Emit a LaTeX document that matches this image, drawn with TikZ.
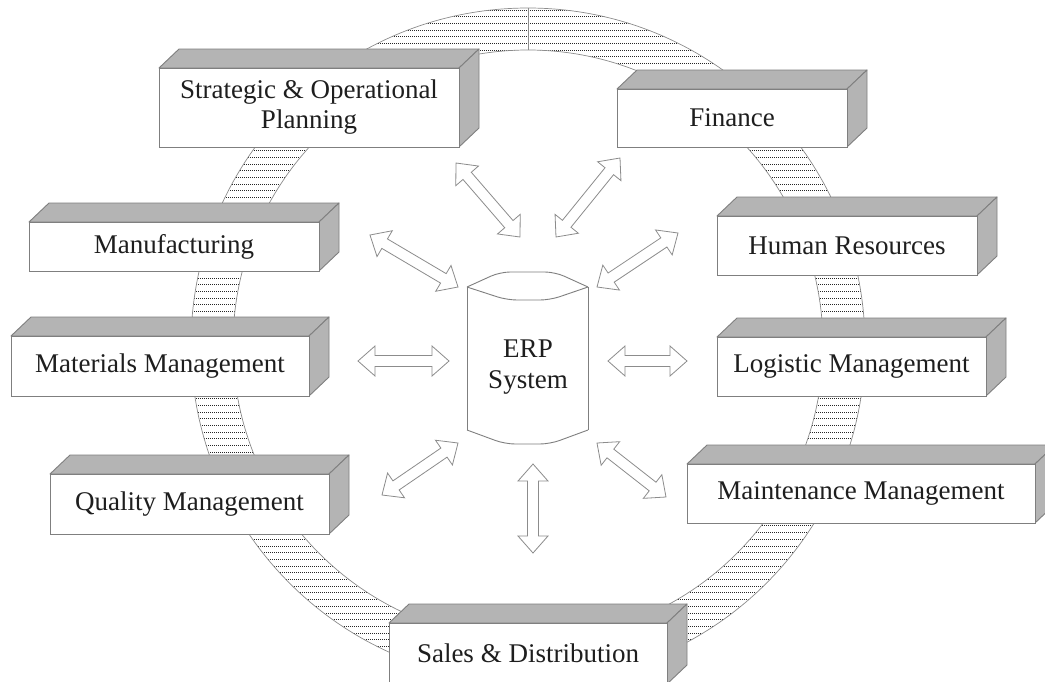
\documentclass[tikz,border=0pt]{standalone}
\usepackage{fontspec}
\setmainfont{Liberation Serif}
\usetikzlibrary{calc}
\definecolor{facegray}{HTML}{B4B4B4}
\definecolor{edgegray}{HTML}{7F7F7F}
\definecolor{arrowgray}{HTML}{8C8C8C}
\definecolor{txt}{HTML}{1E1E1E}
\tikzset{
  frontface/.style={draw=edgegray, fill=white, line width=0.9pt, inner sep=0pt, outer sep=0pt,
    font=\fontsize{27}{30}\selectfont, text=txt, align=center},
  sideface/.style={draw=edgegray, fill=facegray, line width=0.9pt, line join=round},
  ringline/.style={draw=gray!90, line width=0.7pt},
  hatch/.style={black!85, line width=1pt, dash pattern=on 1.2pt off 0.8pt},
  blockarrow/.style={draw=arrowgray, fill=white, line width=0.8pt, line join=miter},
  cylline/.style={draw=edgegray, line width=0.9pt},
  erptext/.style={font=\fontsize{27}{31}\selectfont, text=txt, align=center},
}
\newcommand\threedbox[6]{%
  \path[sideface] (#2,#3) -- (#2+20,#3-19) -- (#4+20,#3-19) -- (#4,#3) -- cycle;
  \path[sideface] (#4,#3) -- (#4+20,#3-19) -- (#4+20,#5-19) -- (#4,#5) -- cycle;
  \node[frontface, minimum width={#4-#2}, minimum height={#5-#3}] (#1) at ({(#2+#4)/2},{(#3+#5)/2}) {#6};
}
\newcommand\dblarrow[2]{%
  \coordinate (ca) at ($(#1)!17pt!(#2)$);
  \coordinate (cb) at ($(#2)!17pt!(#1)$);
  \draw[blockarrow] (#1) -- ($(ca)!15pt!90:(#2)$) -- ($(ca)!5.5pt!90:(#2)$)
    -- ($(cb)!5.5pt!-90:(#1)$) -- ($(cb)!15pt!-90:(#1)$) -- (#2)
    -- ($(cb)!15pt!90:(#1)$) -- ($(cb)!5.5pt!90:(#1)$)
    -- ($(ca)!5.5pt!-90:(#2)$) -- ($(ca)!15pt!-90:(#2)$) -- cycle;
}
\begin{document}
\begin{tikzpicture}[x=1pt,y=-1pt]
\useasboundingbox (0,0) rectangle (1045,681);
\clip (0,0) rectangle (1045,681);
\fill[white] (0,0) rectangle (1045,681);
% ring
\begin{scope}
  \clip (528,345) circle[radius=337pt];
  \foreach \yy in {10,16.7,...,690} \draw[hatch] (180,\yy) -- (880,\yy);
\end{scope}
\fill[white] (528,345) circle[radius=295pt];
\draw[ringline] (528,345) circle[radius=337pt];
\draw[ringline] (528,345) circle[radius=295pt];
\draw[ringline] (528,8) -- (528,50);
% boxes
\threedbox{strat}{159}{68}{459}{147}{Strategic \& Operational\\Planning}
\threedbox{fin}{617}{89}{847}{147}{Finance}
\threedbox{manu}{29}{222}{319}{271}{Manufacturing}
\threedbox{hr}{717}{216}{977}{275}{Human Resources}
\threedbox{mat}{11}{336}{309}{396}{Materials Management}
\threedbox{log}{717}{337}{986}{396}{Logistic Management}
\threedbox{qual}{50}{474}{329}{534}{Quality Management}
\threedbox{maint}{687}{464}{1035}{523}{Maintenance Management}
\threedbox{sales}{389}{623}{667}{684}{Sales \& Distribution}
% ERP cylinder
\path[fill=white] (467,287) -- (500,272) -- (555,272) -- (588,287) -- (588,430) -- (550,444) -- (505,444) -- (467,430) -- cycle;
\draw[cylline, rounded corners=10pt] (467,287) -- (500,272) -- (555,272) -- (588,287);
\draw[cylline, rounded corners=10pt] (467,287) -- (507,300) -- (550,300) -- (588,287);
\draw[cylline] (467,287) -- (467,430);
\draw[cylline] (588,287) -- (588,430);
\draw[cylline, rounded corners=10pt] (467,430) -- (505,444) -- (550,444) -- (588,430);
\node[erptext] (erp) at (528,367) {ERP\\System};
% arrow end points
\coordinate (s1) at (456,163); \coordinate (e1) at (520,237);
\coordinate (s2) at (620,158); \coordinate (e2) at (556,237);
\coordinate (s3) at (370,235); \coordinate (e3) at (458,287);
\coordinate (s4) at (678,233); \coordinate (e4) at (597,287);
\coordinate (s5) at (358,361); \coordinate (e5) at (449,361);
\coordinate (s6) at (687,361); \coordinate (e6) at (608,361);
\coordinate (s7) at (382,495); \coordinate (e7) at (458,443);
\coordinate (s8) at (666,497); \coordinate (e8) at (597,443);
\coordinate (s9) at (533,553); \coordinate (e9) at (533,464);
\dblarrow{s1}{e1}
\dblarrow{s2}{e2}
\dblarrow{s3}{e3}
\dblarrow{s4}{e4}
\dblarrow{s5}{e5}
\dblarrow{s6}{e6}
\dblarrow{s7}{e7}
\dblarrow{s8}{e8}
\dblarrow{s9}{e9}
\end{tikzpicture}
\end{document}
